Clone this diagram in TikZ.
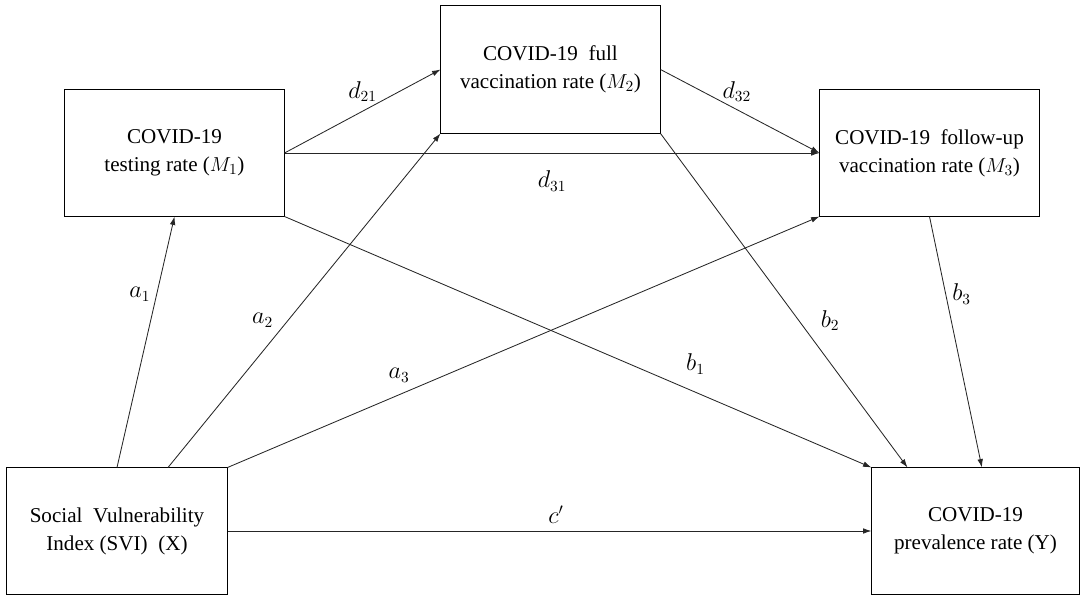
\documentclass[tikz,border=0pt]{standalone}
\usepackage{fontspec}
\setmainfont{Liberation Serif}
\usetikzlibrary{arrows.meta}

\begin{document}
\begin{tikzpicture}[x=0.025cm,y=0.025cm,
  box/.style={draw,line width=0.7pt,align=center,inner sep=0pt,
    font=\fontsize{15}{20}\selectfont,minimum width=5.475cm,minimum height=3.15cm},
  link/.style={-{Latex[length=6pt,width=4pt]},line width=0.6pt,black!85},
  lbl/.style={text=black,font=\fontsize{16}{18}\selectfont}]
\useasboundingbox (0,0) rectangle (1081,595);

% variables
\node[box] (test) at (174.5,442) {COVID-19\\testing rate ($M_1$)};
\node[box,minimum height=3.175cm] (full) at (550.5,525.5) {COVID-19\ \ full\\vaccination rate ($M_2$)};
\node[box] (follow) at (929.5,442) {COVID-19\ \ follow-up\\vaccination rate ($M_3$)};
\node[box,minimum width=5.5cm] (svi) at (117,64) {Social\ \ Vulnerability\\Index (SVI)\ \ (X)};
\node[box,minimum width=5.175cm] (prev) at (975.5,64) {COVID-19\\prevalence rate (Y)};

% paths from X
\draw[link] (svi.north) -- node[lbl,pos=0.69,left=1pt] {$a_1$} (test.south);
\draw[link] ([xshift=1.275cm]svi.north) -- node[lbl,pos=0.44,left=7pt] {$a_2$} (full.south west);
\draw[link] (svi.north east) -- node[lbl,pos=0.29,above=5pt] {$a_3$} (follow.south west);
\draw[link] (svi.east) -- node[lbl,pos=0.51,above=2pt] {$c'$} (prev.west);

% paths between mediators
\draw[link] (test.east) -- node[lbl,pos=0.5,above=3pt] {$d_{21}$} (full.west);
\draw[link] (test.east) -- node[lbl,pos=0.5,below=9pt] {$d_{31}$} (follow.west);
\draw[link] (full.east) -- node[lbl,pos=0.48,above=2pt] {$d_{32}$} (follow.west);

% paths to Y
\draw[link] (test.south east) -- node[lbl,pos=0.7,above=9pt] {$b_1$} (prev.north west);
\draw[link] (full.south east) -- node[lbl,pos=0.56,right=12pt] {$b_2$} ([xshift=0.9cm]prev.north west);
\draw[link] (follow.south) -- node[lbl,pos=0.31,right=1pt] {$b_3$} ([xshift=0.16cm]prev.north);
\end{tikzpicture}
\end{document}
